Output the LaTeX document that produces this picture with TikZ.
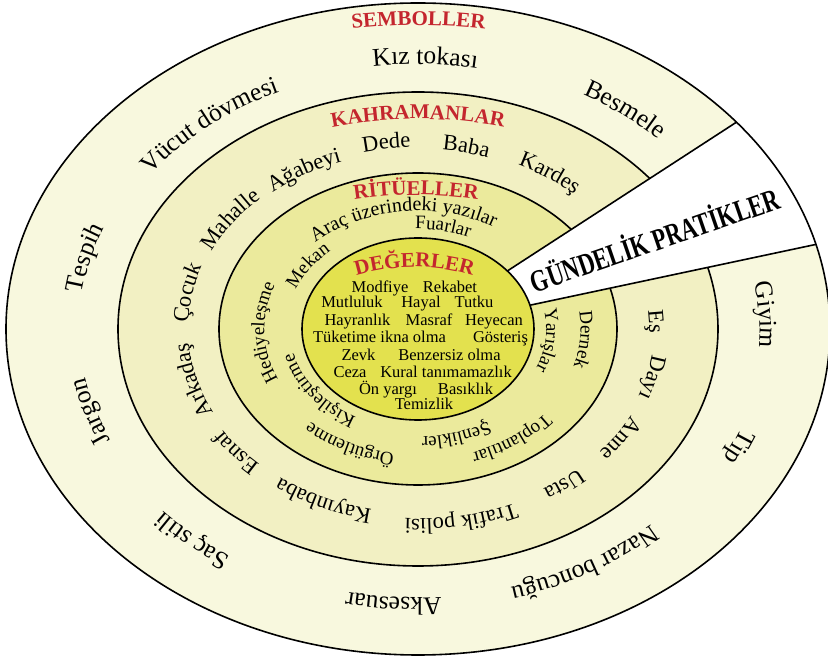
\documentclass[tikz,border=0pt]{standalone}
\usepackage{fontspec}
\setmainfont{Liberation Serif}
\usetikzlibrary{decorations.text}

\definecolor{symring}{HTML}{F8F8DE}
\definecolor{heroring}{HTML}{F2F0C3}
\definecolor{ritring}{HTML}{EBEA9C}
\definecolor{valring}{HTML}{E3E14E}
\definecolor{titlered}{HTML}{C4262E}

\newcommand{\symfont}{\fontsize{25.5}{25.5}\selectfont}
\newcommand{\herofont}{\fontsize{22.5}{22.5}\selectfont}
\newcommand{\ritfont}{\fontsize{19}{19}\selectfont}
\newcommand{\titlefont}{\bfseries\fontsize{21}{21}\selectfont}

\tikzset{
x=1pt, y=1pt, % one unit is one pixel of the sketch
ring/.style={draw=black, line width=1.6pt}, % every ellipse outline
value/.style={inner sep=0pt, text height=10pt, text depth=3pt, font=\fontsize{16.5}{16.5}\selectfont}, % words inside DEĞERLER
}

% word on an ellipse round the centre: [half span]{font}{y radius}{angle}{text}
\newcommand{\ringlabel}[5][40]{%
  \path[decorate, decoration={text along path, text align=center, text={|#2|#5}}]
    ({1.27*#3*cos(#4+#1)},{#3*sin(#4+#1)})
    arc[start angle=#4+#1, end angle=#4-#1, x radius=1.27*#3, y radius=#3];
}
% red title on a flat arc: {x}{y}{radius}{text}
\newcommand{\ringtitle}[4]{%
  \path[decorate, decoration={text along path, text align=center, text color=titlered, text={|\titlefont|#4}}]
    (#1,{#2-#3}) ++({90+8600/#3}:#3) arc[start angle=90+8600/#3, end angle=90-8600/#3, radius=#3];
}

\begin{document}
\begin{tikzpicture}
    \useasboundingbox (-418,-331) rectangle (410,329);

    % rings
    \fill[symring] (0,0) ellipse [x radius=412, y radius=326];
    \draw[ring, fill=heroring] (0,0) ellipse [x radius=300, y radius=237];
    \draw[ring, fill=ritring] (0,0) ellipse [x radius=199, y radius=156];
    \begin{scope}
        \clip (0,0) ellipse [x radius=412, y radius=326];
        \draw[ring, fill=white] (0,0) -- (12:600) -- (33:600) -- cycle;
    \end{scope}
    \draw[ring, fill=valring] (0,0) ellipse [x radius=116, y radius=91];
    \draw[ring] (0,0) ellipse [x radius=412, y radius=326];

    % titles
    \ringtitle{0.5}{304}{600}{SEMBOLLER}
    \ringtitle{0}{210}{450}{KAHRAMANLAR}
    \ringtitle{-2}{134}{400}{RİTÜELLER}
    \ringtitle{-3.5}{62}{200}{DEĞERLER}

    % SEMBOLLER
    \ringlabel[35]{\symfont}{265}{88.7}{Kız tokası}
    \ringlabel[35]{\symfont}{268}{51}{Besmele}
    \ringlabel[35]{\symfont}{261}{131}{Vücut dövmesi}
    \ringlabel[35]{\symfont}{267}{166.2}{Tespih}
    \ringlabel[35]{\symfont}{266}{196.2}{Jargon}
    \ringlabel[35]{\symfont}{271}{227.5}{Saç stili}
    \ringlabel[35]{\symfont}{269}{265.7}{Aksesuar}
    \ringlabel[35]{\symfont}{268}{301}{Nazar boncuğu}
    \ringlabel[35]{\symfont}{273}{337}{Tip}
    \ringlabel[35]{\symfont}{269}{2.7}{Giyim}

    % KAHRAMANLAR
    \ringlabel{\herofont}{182}{98.4}{Dede}
    \ringlabel{\herofont}{180}{77}{Baba}
    \ringlabel{\herofont}{182}{53.5}{Kardeş}
    \ringlabel{\herofont}{178}{122}{Ağabeyi}
    \ringlabel{\herofont}{180}{146.5}{Mahalle}
    \ringlabel{\herofont}{181}{170}{Çocuk}
    \ringlabel{\herofont}{181}{194.5}{Arkadaş}
    \ringlabel{\herofont}{184}{217.5}{Esnaf}
    \ringlabel{\herofont}{184}{244.5}{Kayınbaba}
    \ringlabel{\herofont}{190}{281.1}{Trafik polisi}
    \ringlabel{\herofont}{188}{309.5}{Usta}
    \ringlabel{\herofont}{189}{328.5}{Anne}
    \ringlabel{\herofont}{186}{347}{Dayı}
    \ringlabel{\herofont}{182}{2.1}{Eş}

    % RİTÜELLER
    \ringlabel[60]{\fontsize{20}{20}\selectfont}{118}{97}{Araç üzerindeki yazılar}
    \ringlabel[50]{\ritfont}{100}{77.4}{Fuarlar}
    \ringlabel[50]{\ritfont}{104}{148}{Mekan}
    \ringlabel[50]{\ritfont}{121}{181.4}{Hediyeleşme}
    \ringlabel[50]{\ritfont}{101}{214.7}{Kişileştirme}
    \ringlabel[50]{\ritfont}{126}{242}{Örgütlenme}
    \ringlabel[50]{\ritfont}{108}{288}{Şenlikler}
    \ringlabel[50]{\ritfont}{131}{307.6}{Toplantılar}
    \ringlabel[50]{\ritfont}{101}{354.5}{Yarışlar}
    \ringlabel[50]{\ritfont}{128}{356}{Dernek}

    % DEĞERLER
    \node[value] (modfiye) at (-38,40) {Modfiye};
    \node[value] (rekabet) at (32,40) {Rekabet};
    \node[value] (mutluluk) at (-66,25) {Mutluluk};
    \node[value] (hayal) at (3,25) {Hayal};
    \node[value] (tutku) at (56,25) {Tutku};
    \node[value] (hayranlik) at (-60.5,7) {Hayranlık};
    \node[value] (masraf) at (11,7) {Masraf};
    \node[value] (heyecan) at (76,7) {Heyecan};
    \node[value] (ikna) at (-38.5,-10.5) {Tüketime ikna olma};
    \node[value] (gosteris) at (82.5,-10.5) {Gösteriş};
    \node[value] (zevk) at (-59.5,-28) {Zevk};
    \node[value] (benzersiz) at (31.5,-28) {Benzersiz olma};
    \node[value] (ceza) at (-68,-45) {Ceza};
    \node[value] (kural) at (28,-45) {Kural tanımamazlık};
    \node[value] (onyargi) at (-30,-62) {Ön yargı};
    \node[value] (basiklik) at (47.5,-62) {Basıklık};
    \node[value] (temizlik) at (6,-77) {Temizlik};

    % wedge text
    \node[rotate=19, xscale=0.73, font=\bfseries\fontsize{31}{31}\selectfont] (daily) at (236,91) {GÜNDELİK PRATİKLER};
\end{tikzpicture}
\end{document}
